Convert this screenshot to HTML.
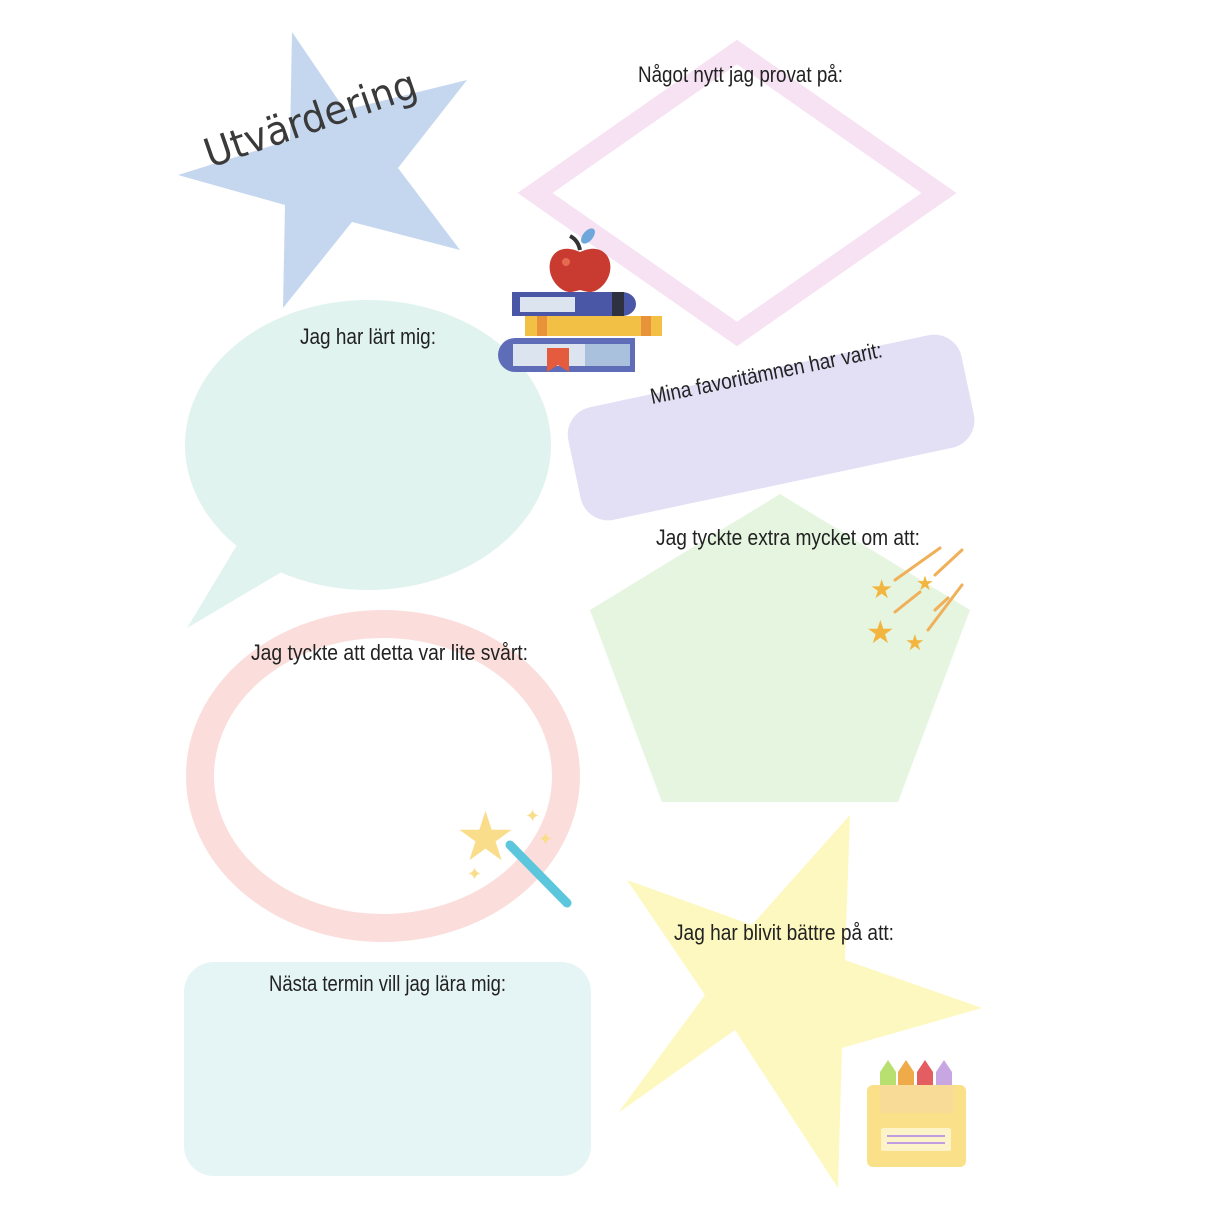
<!DOCTYPE html>
<html><head><meta charset="utf-8"><style>
html,body{margin:0;padding:0;background:#fff}
svg{display:block}
text{font-family:"Liberation Sans",sans-serif;fill:#222}
</style></head><body>
<svg width="1220" height="1222" viewBox="0 0 1220 1222">
<!-- blue star -->
<polygon points="292,32 345,110 467,80 398,168 460,250 352,222 283,308 285,205 178,175 290,140" fill="#c5d7ee"/>
<text x="210" y="168" font-size="40" textLength="222" lengthAdjust="spacingAndGlyphs" transform="rotate(-19 210 168)" style="font-family:'DejaVu Sans',sans-serif;fill:#3a3a3a">Utvärdering</text>
<!-- pink diamond -->
<polygon points="737,52 939,193 737,334 535,193" fill="none" stroke="#f6e2f3" stroke-width="20" stroke-linejoin="miter"/>
<text x="638" y="82" font-size="22" textLength="205" lengthAdjust="spacingAndGlyphs">Något nytt jag provat på:</text>
<!-- speech bubble -->
<ellipse cx="368" cy="445" rx="183" ry="145" fill="#e0f3ef"/>
<polygon points="240,540 285,570 187,628" fill="#e0f3ef"/>
<text x="300" y="344" font-size="22" textLength="136" lengthAdjust="spacingAndGlyphs">Jag har lärt mig:</text>
<!-- purple rect -->
<g transform="rotate(-12 771 427)"><rect x="570" y="370" width="402" height="115" rx="28" fill="#e3e0f6"/></g>
<text x="652" y="404" font-size="22" textLength="236" lengthAdjust="spacingAndGlyphs" transform="rotate(-11.5 652 404)">Mina favoritämnen har varit:</text>
<!-- pentagon -->
<polygon points="780,494 970,610 898,802 662,802 590,610" fill="#e5f5e0"/>
<text x="656" y="545" font-size="22" textLength="264" lengthAdjust="spacingAndGlyphs">Jag tyckte extra mycket om att:</text>
<!-- ring -->
<ellipse cx="383" cy="776" rx="183" ry="152" fill="none" stroke="#fbdedb" stroke-width="28"/>
<text x="251" y="660" font-size="22" textLength="277" lengthAdjust="spacingAndGlyphs">Jag tyckte att detta var lite svårt:</text>
<!-- bottom rect -->
<rect x="184" y="962" width="407" height="214" rx="30" fill="#e5f4f4"/>
<text x="269" y="991" font-size="22" textLength="237" lengthAdjust="spacingAndGlyphs">Nästa termin vill jag lära mig:</text>
<!-- yellow star -->
<polygon points="850,815 845,960 982,1008 842,1048 838,1188 735,1030 618,1113 705,995 627,880 752,925" fill="#fdf8c0"/>
<text x="674" y="940" font-size="22" textLength="220" lengthAdjust="spacingAndGlyphs">Jag har blivit bättre på att:</text>
<!-- books + apple -->
<path d="M515,338 h120 v34 h-120 a17,17 0 0 1 0,-34z" fill="#5f6db8"/>
<rect x="513" y="344" width="80" height="22" fill="#dbe4ef"/>
<rect x="585" y="344" width="45" height="22" fill="#a9c1dc"/>
<polygon points="547,348 569,348 569,372 558,365 547,372" fill="#e55b3e"/>
<rect x="525" y="316" width="137" height="20" fill="#f2c045"/>
<rect x="537" y="316" width="10" height="20" fill="#e8923a"/><rect x="641" y="316" width="10" height="20" fill="#e8923a"/>
<path d="M512,292 h110 a14,12 0 0 1 0,24 h-110z" fill="#4a56a6"/>
<rect x="520" y="297" width="55" height="15" fill="#dbe4ef"/>
<rect x="612" y="292" width="12" height="24" fill="#2e3140"/>
<path d="M580,250 q-2,-10 -10,-14" stroke="#333" stroke-width="4" fill="none"/>
<ellipse cx="588" cy="236" rx="5" ry="9" transform="rotate(40 588 236)" fill="#6fa6db"/>
<path d="M580,252 c-30,-14 -40,20 -20,36 c8,6 12,4 20,2 c8,2 12,4 20,-2 c20,-16 10,-50 -20,-36z" fill="#c93a30"/>
<circle cx="566" cy="262" r="4" fill="#e56a50"/>
<!-- shooting stars -->
<g stroke="#f0b05a" stroke-width="3" stroke-linecap="round">
<line x1="895" y1="580" x2="940" y2="548"/><line x1="935" y1="575" x2="962" y2="550"/>
<line x1="895" y1="612" x2="920" y2="592"/><line x1="928" y1="630" x2="962" y2="585"/>
<line x1="935" y1="610" x2="948" y2="598"/>
</g>
<text x="870" y="598" font-size="26" style="fill:#f2b640;font-family:'DejaVu Sans'">★</text>
<text x="916" y="590" font-size="20" style="fill:#f2b640;font-family:'DejaVu Sans'">★</text>
<text x="866" y="643" font-size="32" style="fill:#f2b640;font-family:'DejaVu Sans'">★</text>
<text x="905" y="650" font-size="22" style="fill:#f2b640;font-family:'DejaVu Sans'">★</text>
<!-- wand -->
<line x1="510" y1="845" x2="567" y2="903" stroke="#5cc6dc" stroke-width="9" stroke-linecap="round"/>
<text x="455" y="860" font-size="68" style="fill:#f9dd8a;font-family:'DejaVu Sans'">★</text>
<text x="525" y="822" font-size="18" style="fill:#f9dd8a;font-family:'DejaVu Sans'">✦</text>
<text x="538" y="845" font-size="18" style="fill:#f9dd8a;font-family:'DejaVu Sans'">✦</text>
<text x="467" y="880" font-size="18" style="fill:#f9dd8a;font-family:'DejaVu Sans'">✦</text>
<!-- crayons -->
<path d="M880,1112 v-40 l8,-12 l8,12 v40z" fill="#b8e070"/>
<path d="M898,1112 v-40 l8,-12 l8,12 v40z" fill="#efaa4a"/>
<path d="M917,1112 v-40 l8,-12 l8,12 v40z" fill="#e45d60"/>
<path d="M936,1112 v-40 l8,-12 l8,12 v40z" fill="#c8a6e2"/>
<rect x="867" y="1085" width="99" height="82" rx="6" fill="#fae089"/>
<rect x="880" y="1085" width="74" height="28" fill="#f5d7a0" opacity="0.6"/>
<rect x="881" y="1128" width="70" height="23" rx="2" fill="#fdf3c8"/>
<line x1="887" y1="1136" x2="945" y2="1136" stroke="#c09ce0" stroke-width="2"/>
<line x1="887" y1="1143" x2="945" y2="1143" stroke="#c09ce0" stroke-width="2"/>
</svg>
</body></html>
